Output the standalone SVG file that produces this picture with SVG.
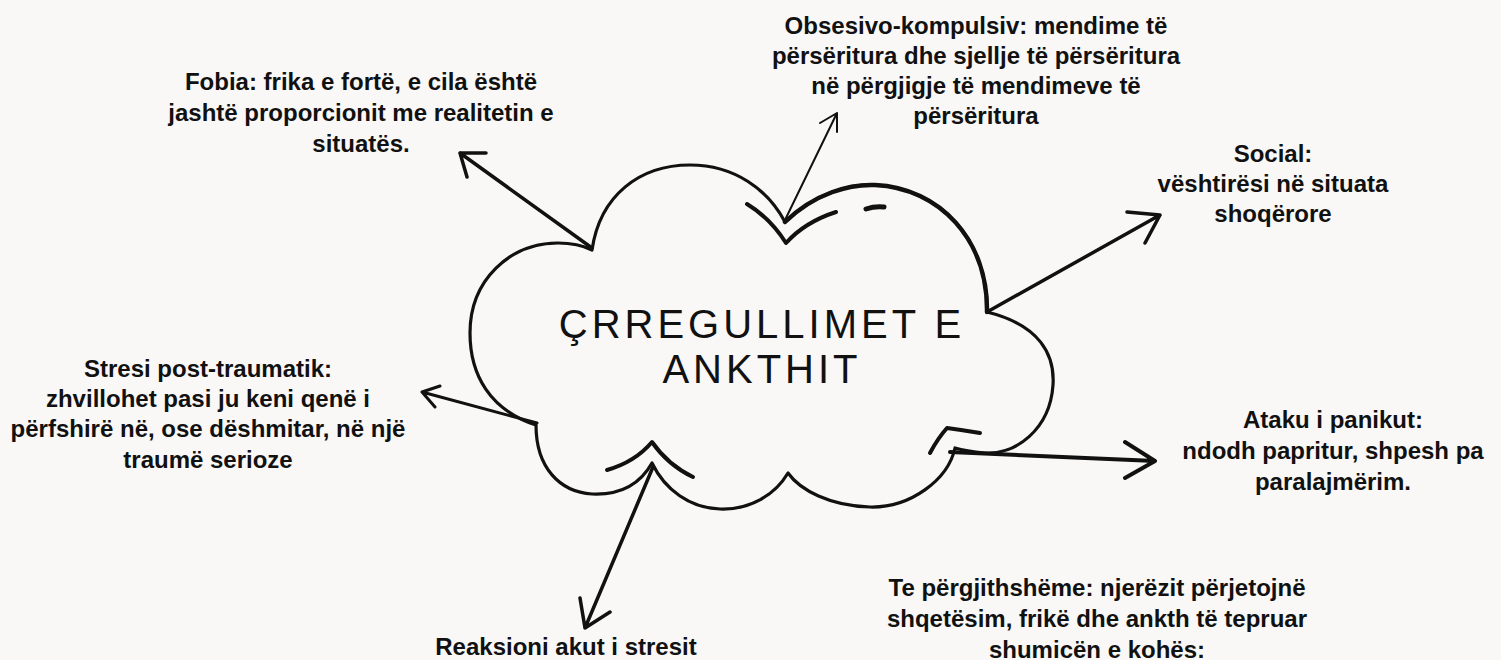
<svg xmlns="http://www.w3.org/2000/svg" width="1501" height="660" viewBox="0 0 1501 660">
<style>
.lbl{font-family:"Liberation Sans",Arial,Helvetica,sans-serif;font-weight:bold;font-size:24px;fill:#111;text-anchor:middle}
.title{font-family:"Liberation Sans",Arial,Helvetica,sans-serif;font-size:40px;letter-spacing:4px;fill:#111;text-anchor:middle}
.ln{fill:none;stroke:#111;stroke-linecap:round;stroke-linejoin:round}
</style>
<rect width="1501" height="660" fill="#f9f8f6"/>
<g id="cloud">
<path class="ln" stroke-width="3.2" fill="#f9f8f6" d="M785,222 C815,193 850,184 875,185 C940,188 988,240 987,312 C1040,325 1055,355 1053,385 C1050,430 1015,455 985,453 C975,452 962,450 955,448 C948,480 910,508 870,507 C830,506 800,490 788,473 C775,495 750,510 720,509 C690,508 665,490 652,463 C638,488 615,495 592,494 C560,492 536,468 536,425 C490,410 470,375 470,333 C470,280 510,243 558,243 C570,243 582,245 592,250 C600,195 640,165 690,165 C735,165 768,190 785,222 Z"/>
<path class="ln" stroke-width="4.5" d="M785,222 C815,193 850,184 875,185 C940,188 988,240 987,312"/>
<path class="ln" stroke-width="4" d="M747,204 Q770,218 786,243 Q805,222 836,212"/>
<path class="ln" stroke-width="5" d="M866,209 Q875,206 884,207"/>
<path class="ln" stroke-width="4" d="M607,470 Q635,462 652,442 Q668,465 693,477"/>
<path class="ln" stroke-width="4" d="M930,453 Q938,438 947,428 Q962,430 980,433"/>
<text class="title" x="762" y="338">ÇRREGULLIMET E</text>
<text class="title" x="762" y="383">ANKTHIT</text>
</g>
<g id="connectors">
<path class="ln" stroke-width="3.5" d="M592,248 L460,153 M486,153 L460,153 L467,177"/>
<path class="ln" stroke-width="2" d="M785,220 L837,113 M820,123 L837,113 L837,132"/>
<path class="ln" stroke-width="3.5" d="M987,312 L1160,215 M1127,212 L1160,215 L1145,243"/>
<path class="ln" stroke-width="3" d="M537,423 L422,392 M440,386 L422,392 L435,407"/>
<path class="ln" stroke-width="4" d="M950,452 L1155,461 M1125,442 L1155,461 L1125,478"/>
<path class="ln" stroke-width="3.5" d="M653,467 L585,628 M580,598 L585,628 L610,612"/>
</g>
<g id="fobia">
<text class="lbl" x="361" y="90">Fobia: frika e fortë, e cila është</text>
<text class="lbl" x="361" y="121">jashtë proporcionit me realitetin e</text>
<text class="lbl" x="361" y="152">situatës.</text>
</g>
<g id="obsesivo">
<text class="lbl" x="976" y="34">Obsesivo-kompulsiv: mendime të</text>
<text class="lbl" x="976" y="64">përsëritura dhe sjellje të përsëritura</text>
<text class="lbl" x="976" y="94">në përgjigje të mendimeve të</text>
<text class="lbl" x="976" y="124">përsëritura</text>
</g>
<g id="social">
<text class="lbl" x="1273" y="162">Social:</text>
<text class="lbl" x="1273" y="192">vështirësi në situata</text>
<text class="lbl" x="1273" y="222">shoqërore</text>
</g>
<g id="stresi-post-traumatik">
<text class="lbl" x="208" y="377">Stresi post-traumatik:</text>
<text class="lbl" x="208" y="407">zhvillohet pasi ju keni qenë i</text>
<text class="lbl" x="208" y="437">përfshirë në, ose dëshmitar, në një</text>
<text class="lbl" x="208" y="468">traumë serioze</text>
</g>
<g id="ataku-panikut">
<text class="lbl" x="1333" y="428">Ataku i panikut:</text>
<text class="lbl" x="1333" y="459">ndodh papritur, shpesh pa</text>
<text class="lbl" x="1333" y="490">paralajmërim.</text>
</g>
<g id="reaksioni">
<text class="lbl" x="566" y="655">Reaksioni akut i stresit</text>
</g>
<g id="te-pergjithshme">
<text class="lbl" x="1097" y="596">Te përgjithshëme: njerëzit përjetojnë</text>
<text class="lbl" x="1097" y="627">shqetësim, frikë dhe ankth të tepruar</text>
<text class="lbl" x="1097" y="658">shumicën e kohës:</text>
</g>
</svg>
